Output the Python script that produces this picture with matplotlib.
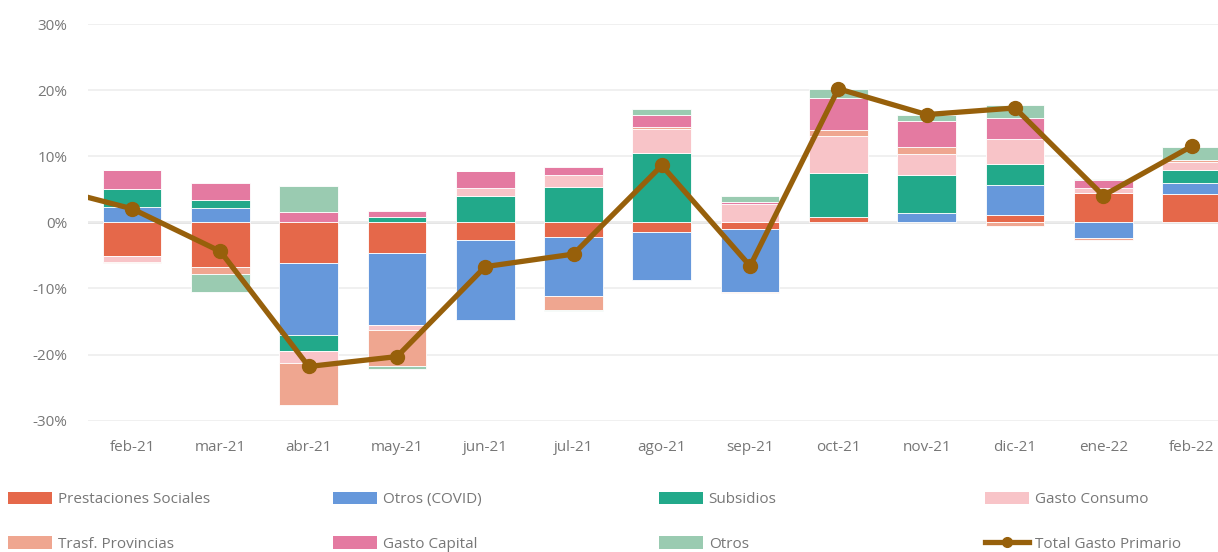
import numpy as np
import matplotlib.pyplot as plt
from matplotlib.patches import Patch
from matplotlib.lines import Line2D

plt.rcParams['font.family'] = ['Open Sans', 'DejaVu Sans']

meses = ['feb-21', 'mar-21', 'abr-21', 'may-21', 'jun-21', 'jul-21', 'ago-21',
         'sep-21', 'oct-21', 'nov-21', 'dic-21', 'ene-22', 'feb-22']

# contribuciones (puntos porcentuales)
prestaciones = [-5.1, -6.7, -6.2, -4.7, -2.7, -2.2, -1.45, -1.0, 0.85, 0.0, 1.05, 4.5, 4.3]
otros_covid = [2.25, 2.2, -10.8, -10.9, -12.0, -8.9, -7.2, -9.5, 0.0, 1.35, 4.65, -2.35, 1.7]
subsidios = [2.8, 1.25, -2.45, 0.8, 4.05, 5.3, 10.45, 0.0, 6.55, 5.75, 3.15, 0.0, 1.95]
gasto_consumo = [-0.9, 0.0, -1.85, -0.65, 1.15, 1.9, 3.65, 2.8, 5.7, 3.25, 3.8, 0.7, 1.25]
trasf_prov = [-0.15, -1.15, -6.25, -5.55, 0.0, -2.1, 0.35, -0.25, 0.85, 1.1, -0.6, -0.35, 0.25]
gasto_capital = [2.8, 2.45, 1.5, 0.85, 2.6, 1.2, 1.85, 0.35, 4.8, 3.95, 3.2, 1.15, 0.0]
otros = [0.0, -2.65, 4.05, -0.4, 0.0, -0.2, 0.85, 0.9, 1.4, 0.85, 1.85, 0.2, 2.0]

total_ene21 = 5.5  # punto anterior, fuera del área visible
total = [2.05, -4.4, -21.8, -20.3, -6.7, -4.8, 8.6, -6.6, 20.2, 16.3, 17.3, 4.05, 11.5]

series = [
    ('Prestaciones Sociales', prestaciones, '#E5684A'),
    ('Otros (COVID)', otros_covid, '#6698DB'),
    ('Subsidios', subsidios, '#22A98A'),
    ('Gasto Consumo', gasto_consumo, '#F8C4C8'),
    ('Trasf. Provincias', trasf_prov, '#EFA690'),
    ('Gasto Capital', gasto_capital, '#E47AA1'),
    ('Otros', otros, '#9ACBB1'),
]
line_color = '#97600B'

fig = plt.figure(figsize=(12.18, 5.52), dpi=100)
ax = fig.add_axes([88 / 1218, 1 - 420.7 / 552, 1 - 88 / 1218, (420.7 - 24) / 552])

x = np.arange(len(meses))
pos_bottom = np.zeros(len(meses))
neg_bottom = np.zeros(len(meses))
for name, vals, color in series:
    v = np.array(vals)
    bottom = np.where(v >= 0, pos_bottom, neg_bottom)
    ax.bar(x, v, 0.665, bottom=bottom, color=color, edgecolor='white',
           linewidth=0.6, zorder=3)
    pos_bottom += np.where(v > 0, v, 0)
    neg_bottom += np.where(v < 0, v, 0)

xl = np.concatenate([[-1], x])
yl = [total_ene21] + total
ax.plot(xl, yl, color=line_color, lw=3.8, marker='o', markersize=10,
        zorder=5, solid_capstyle='round')

ax.set_ylim(-30, 30)
ax.set_xlim(-0.5, 12.3)
ax.set_yticks(np.arange(-30, 31, 10))
ax.set_yticklabels([f'{t}%' for t in range(-30, 31, 10)])
ax.set_xticks(x)
ax.set_xticklabels(meses)
ax.tick_params(length=0, labelsize=11, colors='#777777')
ax.tick_params(axis='y', pad=15)
ax.tick_params(axis='x', pad=14)
ax.grid(axis='y', color='#EEEEEE', lw=1.2, zorder=0)
ax.axhline(0, color='#DDDDDD', lw=1.8, zorder=1)
for s in ax.spines.values():
    s.set_visible(False)

handles = [Patch(facecolor=c, label=n) for n, _, c in series]
handles.append(Line2D([], [], color=line_color, lw=3.8, marker='o',
                      markersize=7, label='Total Gasto Primario'))
order = [[0, 4], [1, 5], [2, 6], [3, 7]]
col_x = [8, 333, 659, 985]
for cx, idx in zip(col_x, order):
    fig.legend([handles[i] for i in idx], [handles[i].get_label() for i in idx],
               loc='upper left', bbox_to_anchor=(cx / 1218, 1 - 492 / 552),
               frameon=False, fontsize=11, labelcolor='#777777',
               handlelength=2.9, handleheight=0.85, handletextpad=0.35,
               labelspacing=1.9, borderpad=0, borderaxespad=0)

fig.savefig('out.png', dpi=100)
